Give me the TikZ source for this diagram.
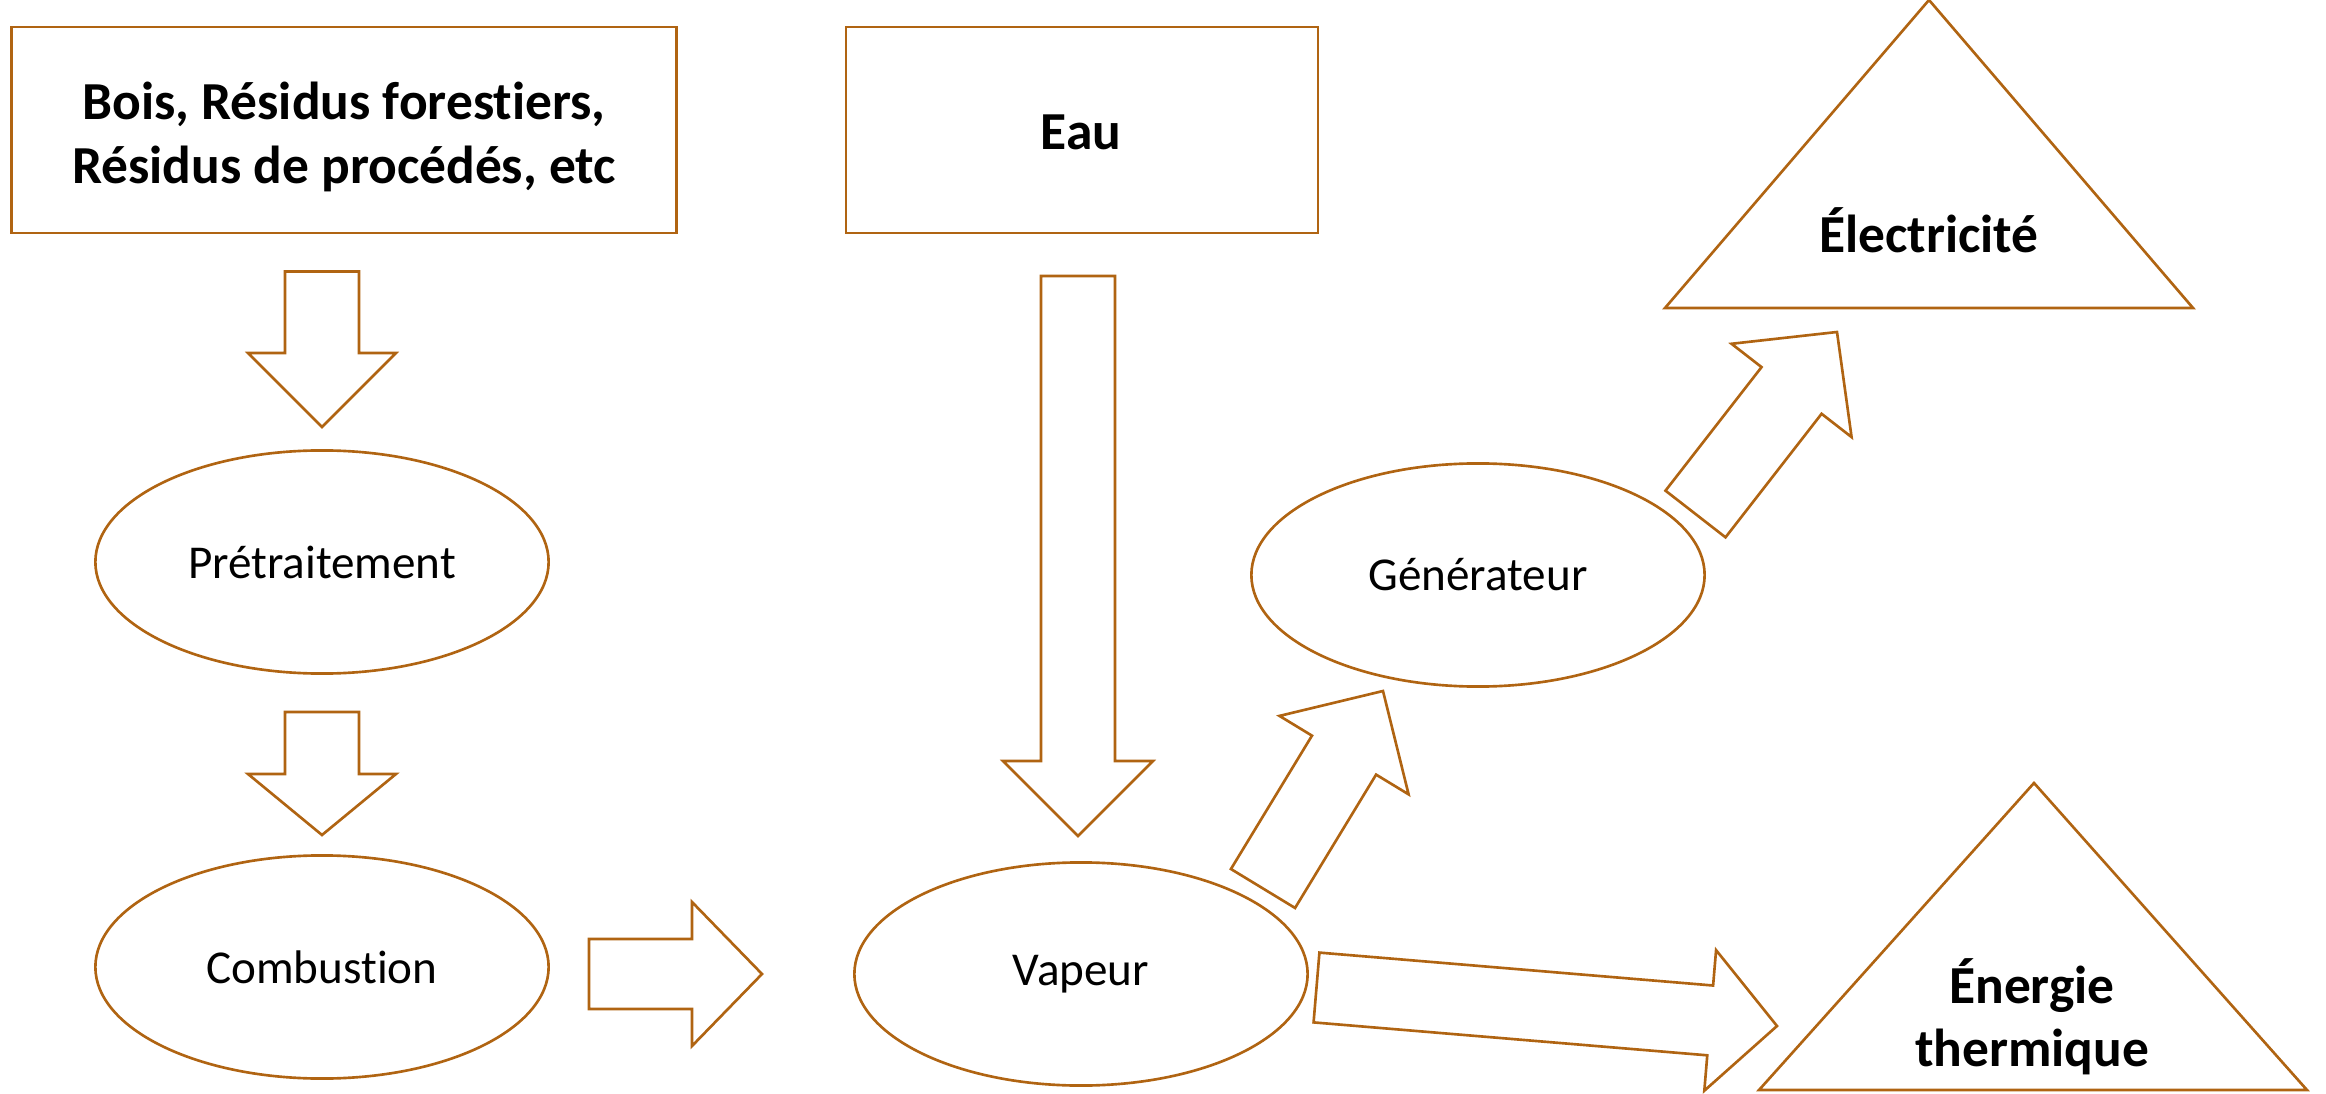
\documentclass[tikz,border=0pt]{standalone}
\usepackage{fontspec}
\setmainfont{Carlito}[Ligatures=CommonOff]
\usetikzlibrary{shapes.geometric,calc}
\definecolor{bark}{RGB}{176,100,18}

\newcommand{\blockarrow}[5]{%
  \coordinate (j) at ($(#2)!#5!(#1)$);
  \draw[flow] ($(#1)!#3!90:(#2)$) -- ($(j)!#3!90:(#2)$) -- ($(j)!#4!90:(#2)$) -- (#2)
    -- ($(j)!#4!-90:(#2)$) -- ($(j)!#3!-90:(#2)$) -- ($(#1)!#3!-90:(#2)$) -- cycle;
}

\begin{document}
\begin{tikzpicture}[x=0.01cm, y=-0.01cm,
    box/.style={draw=bark, line width=0.75pt, rectangle, minimum height=2.06cm},
    blob/.style={draw=bark, line width=0.75pt, ellipse, minimum width=4.53cm, minimum height=2.23cm,
      font=\fontsize{13.4}{16}\selectfont},
    goal/.style={align=center, font=\fontsize{15.2}{18}\selectfont\bfseries},
    flow/.style={draw=bark, line width=0.75pt, line join=miter}]
    \useasboundingbox (0,0) rectangle (2326,1094);

    \node[box, minimum width=6.64cm] (wood) at (344, 130) {};
    \node[goal] (woodtext) at (344, 137) {Bois, Résidus forestiers,\\Résidus de procédés, etc};
    \node[box, minimum width=4.72cm] (water) at (1082, 130) {};
    \node[goal] (watertext) at (1081, 132) {Eau};

    \node[blob] (pre) at (322, 562) {Prétraitement};
    \node[blob] (burn) at (322, 967) {Combustion};
    \node[blob] (steam) at (1081, 974) {Vapeur};
    \node[blob] (gen) at (1478, 575) {Générateur};

    \draw[flow] (1665, 308) -- (1929, 0) -- (2193, 308) -- cycle;
    \node[goal] (elec) at (1929, 230) {Électricité};
    \draw[flow] (1759, 1090) -- (2034, 783) -- (2307, 1090) -- cycle;
    \node[goal] (heat) at (2032, 1017) {Énergie\\thermique};

    \coordinate (a1s) at (322, 271.5);   \coordinate (a1e) at (322, 427);
    \coordinate (a2s) at (322, 712);     \coordinate (a2e) at (322, 835);
    \coordinate (a3s) at (1078, 276);    \coordinate (a3e) at (1078, 836);
    \coordinate (a4s) at (589, 974);     \coordinate (a4e) at (762, 974);
    \coordinate (a5s) at (1263, 888.5);  \coordinate (a5e) at (1383, 691);
    \coordinate (a6s) at (1695.5, 514);  \coordinate (a6e) at (1837, 332);
    \coordinate (a7s) at (1316.5, 987.5); \coordinate (a7e) at (1777, 1026);

    \blockarrow{a1s}{a1e}{3.7mm}{7.4mm}{7.4mm}
    \blockarrow{a2s}{a2e}{3.7mm}{7.4mm}{6.1mm}
    \blockarrow{a3s}{a3e}{3.7mm}{7.5mm}{7.5mm}
    \blockarrow{a4s}{a4e}{3.5mm}{7.2mm}{7.0mm}
    \blockarrow{a5s}{a5e}{3.75mm}{7.55mm}{7.5mm}
    \blockarrow{a6s}{a6e}{3.8mm}{7.6mm}{7.4mm}
    \blockarrow{a7s}{a7e}{3.5mm}{7.05mm}{6.7mm}
\end{tikzpicture}
\end{document}
